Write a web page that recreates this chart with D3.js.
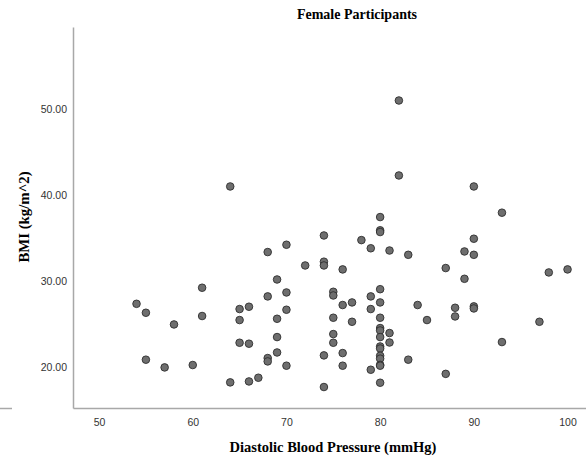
<!DOCTYPE html>
<html>
<head>
<meta charset="utf-8">
<script src="https://cdn.jsdelivr.net/npm/d3@7"></script>
<style>
  body { margin: 0; background: #fff; }
  svg { display: block; }
</style>
</head>
<body>
<svg id="chart"></svg>
<script>
// diastolic pressure (mmHg) and BMI for each participant
const dbp = [
    54, 55, 55, 57, 58, 60, 61, 61, 64, 64,
    65, 65, 65, 66, 66, 66, 67, 68, 68, 68, 68,
    69, 69, 69, 69, 70, 70, 70, 70, 72,
    74, 74, 74, 74, 74, 75, 75, 75, 75, 75,
    76, 76, 76, 76, 77, 77, 78, 79, 79, 79, 79,
    80, 80, 80, 80, 80, 80, 80, 80, 80, 80, 80, 80, 80, 80, 80, 80,
    81, 81, 81, 82, 82, 83, 83, 84, 85, 87, 87, 88, 88, 89, 89,
    90, 90, 90, 90, 90, 93, 93, 97, 98, 100
];
const bmi = [
    27.40, 26.36, 20.90, 20.00, 25.00, 20.28, 29.27, 25.98, 41.05, 18.26,
    26.79, 25.51, 22.87, 27.06, 22.76, 18.37, 18.80, 33.42, 28.26, 21.09, 20.70,
    30.23, 25.66, 23.53, 21.74, 34.27, 28.72, 26.71, 20.20, 31.86,
    35.35, 32.30, 31.86, 21.40, 17.72, 28.80, 28.37, 25.78, 23.88, 22.87,
    31.40, 27.26, 21.67, 20.20, 27.56, 25.31, 34.81, 33.86, 28.26, 26.79, 19.73,
    37.49, 35.95, 35.75, 29.10, 27.56, 25.78, 24.58, 24.30, 23.53, 22.44, 22.20, 21.36, 21.02, 20.30, 20.20, 18.22,
    33.60, 24.00, 22.90, 51.05, 42.33, 33.10, 20.90, 27.26, 25.51, 31.56, 19.25, 26.94, 25.93, 33.49, 30.31,
    41.05, 34.97, 33.10, 27.10, 26.86, 38.00, 22.95, 25.31, 31.05, 31.40
];
const xTicks = [50, 60, 70, 80, 90, 100];
const yTicks = [20, 30, 40, 50];

const width = 586;
const height = 459;
const plotL = 73, plotR = 586, plotT = 27, plotB = 408;

const svg = d3.select("#chart")
    .attr("width", width)
    .attr("height", height);

const x = d3.scaleLinear().domain([47.22, 101.97]).range([plotL, plotR]);
const y = d3.scaleLinear().domain([15.28, 59.6]).range([plotB, plotT]);

// axes: no tick marks, just the line and labels
const xAxis = svg.append("g")
    .attr("transform", `translate(0,${plotB})`)
    .call(d3.axisBottom(x).tickValues(xTicks).tickSize(0).tickPadding(11).tickFormat(d3.format("d")));
const yAxis = svg.append("g")
    .attr("transform", `translate(${plotL},0)`)
    .call(d3.axisLeft(y).tickValues(yTicks).tickSize(0).tickPadding(6).tickFormat(d3.format(".2f")));

[xAxis, yAxis].forEach(a => {
    a.select(".domain").attr("stroke", "#a8a8a8").attr("stroke-width", 1.5);
    a.selectAll("text")
        .attr("fill", "#333")
        .style("font-family", "'Liberation Sans', Arial, sans-serif")
        .style("font-size", "10.5px");
});

// little leftover frame segment at the far left
svg.append("line")
    .attr("x1", 0).attr("x2", 12)
    .attr("y1", plotB + 0.5).attr("y2", plotB + 0.5)
    .attr("stroke", "#a8a8a8").attr("stroke-width", 1.5);

const pts = dbp.map((d, i) => ({ x: d, y: bmi[i] }));

svg.append("g")
    .selectAll("circle")
    .data(pts)
    .join("circle")
    .attr("cx", d => x(d.x))
    .attr("cy", d => y(d.y))
    .attr("r", 3.8)
    .attr("fill", "#6e6e6e")
    .attr("stroke", "#2e2e2e")
    .attr("stroke-width", 0.9);

const serif = "'Liberation Serif', 'Times New Roman', serif";

svg.append("text")
    .attr("x", 357).attr("y", 19)
    .attr("text-anchor", "middle")
    .style("font-family", serif)
    .style("font-weight", "bold")
    .style("font-size", "14px")
    .text("Female Participants");

svg.append("text")
    .attr("x", 333).attr("y", 452)
    .attr("text-anchor", "middle")
    .style("font-family", serif)
    .style("font-weight", "bold")
    .style("font-size", "14.5px")
    .text("Diastolic Blood Pressure (mmHg)");

svg.append("text")
    .attr("transform", "translate(29,217) rotate(-90)")
    .attr("text-anchor", "middle")
    .style("font-family", serif)
    .style("font-weight", "bold")
    .style("font-size", "14.8px")
    .text("BMI (kg/m^2)");
</script>
</body>
</html>
